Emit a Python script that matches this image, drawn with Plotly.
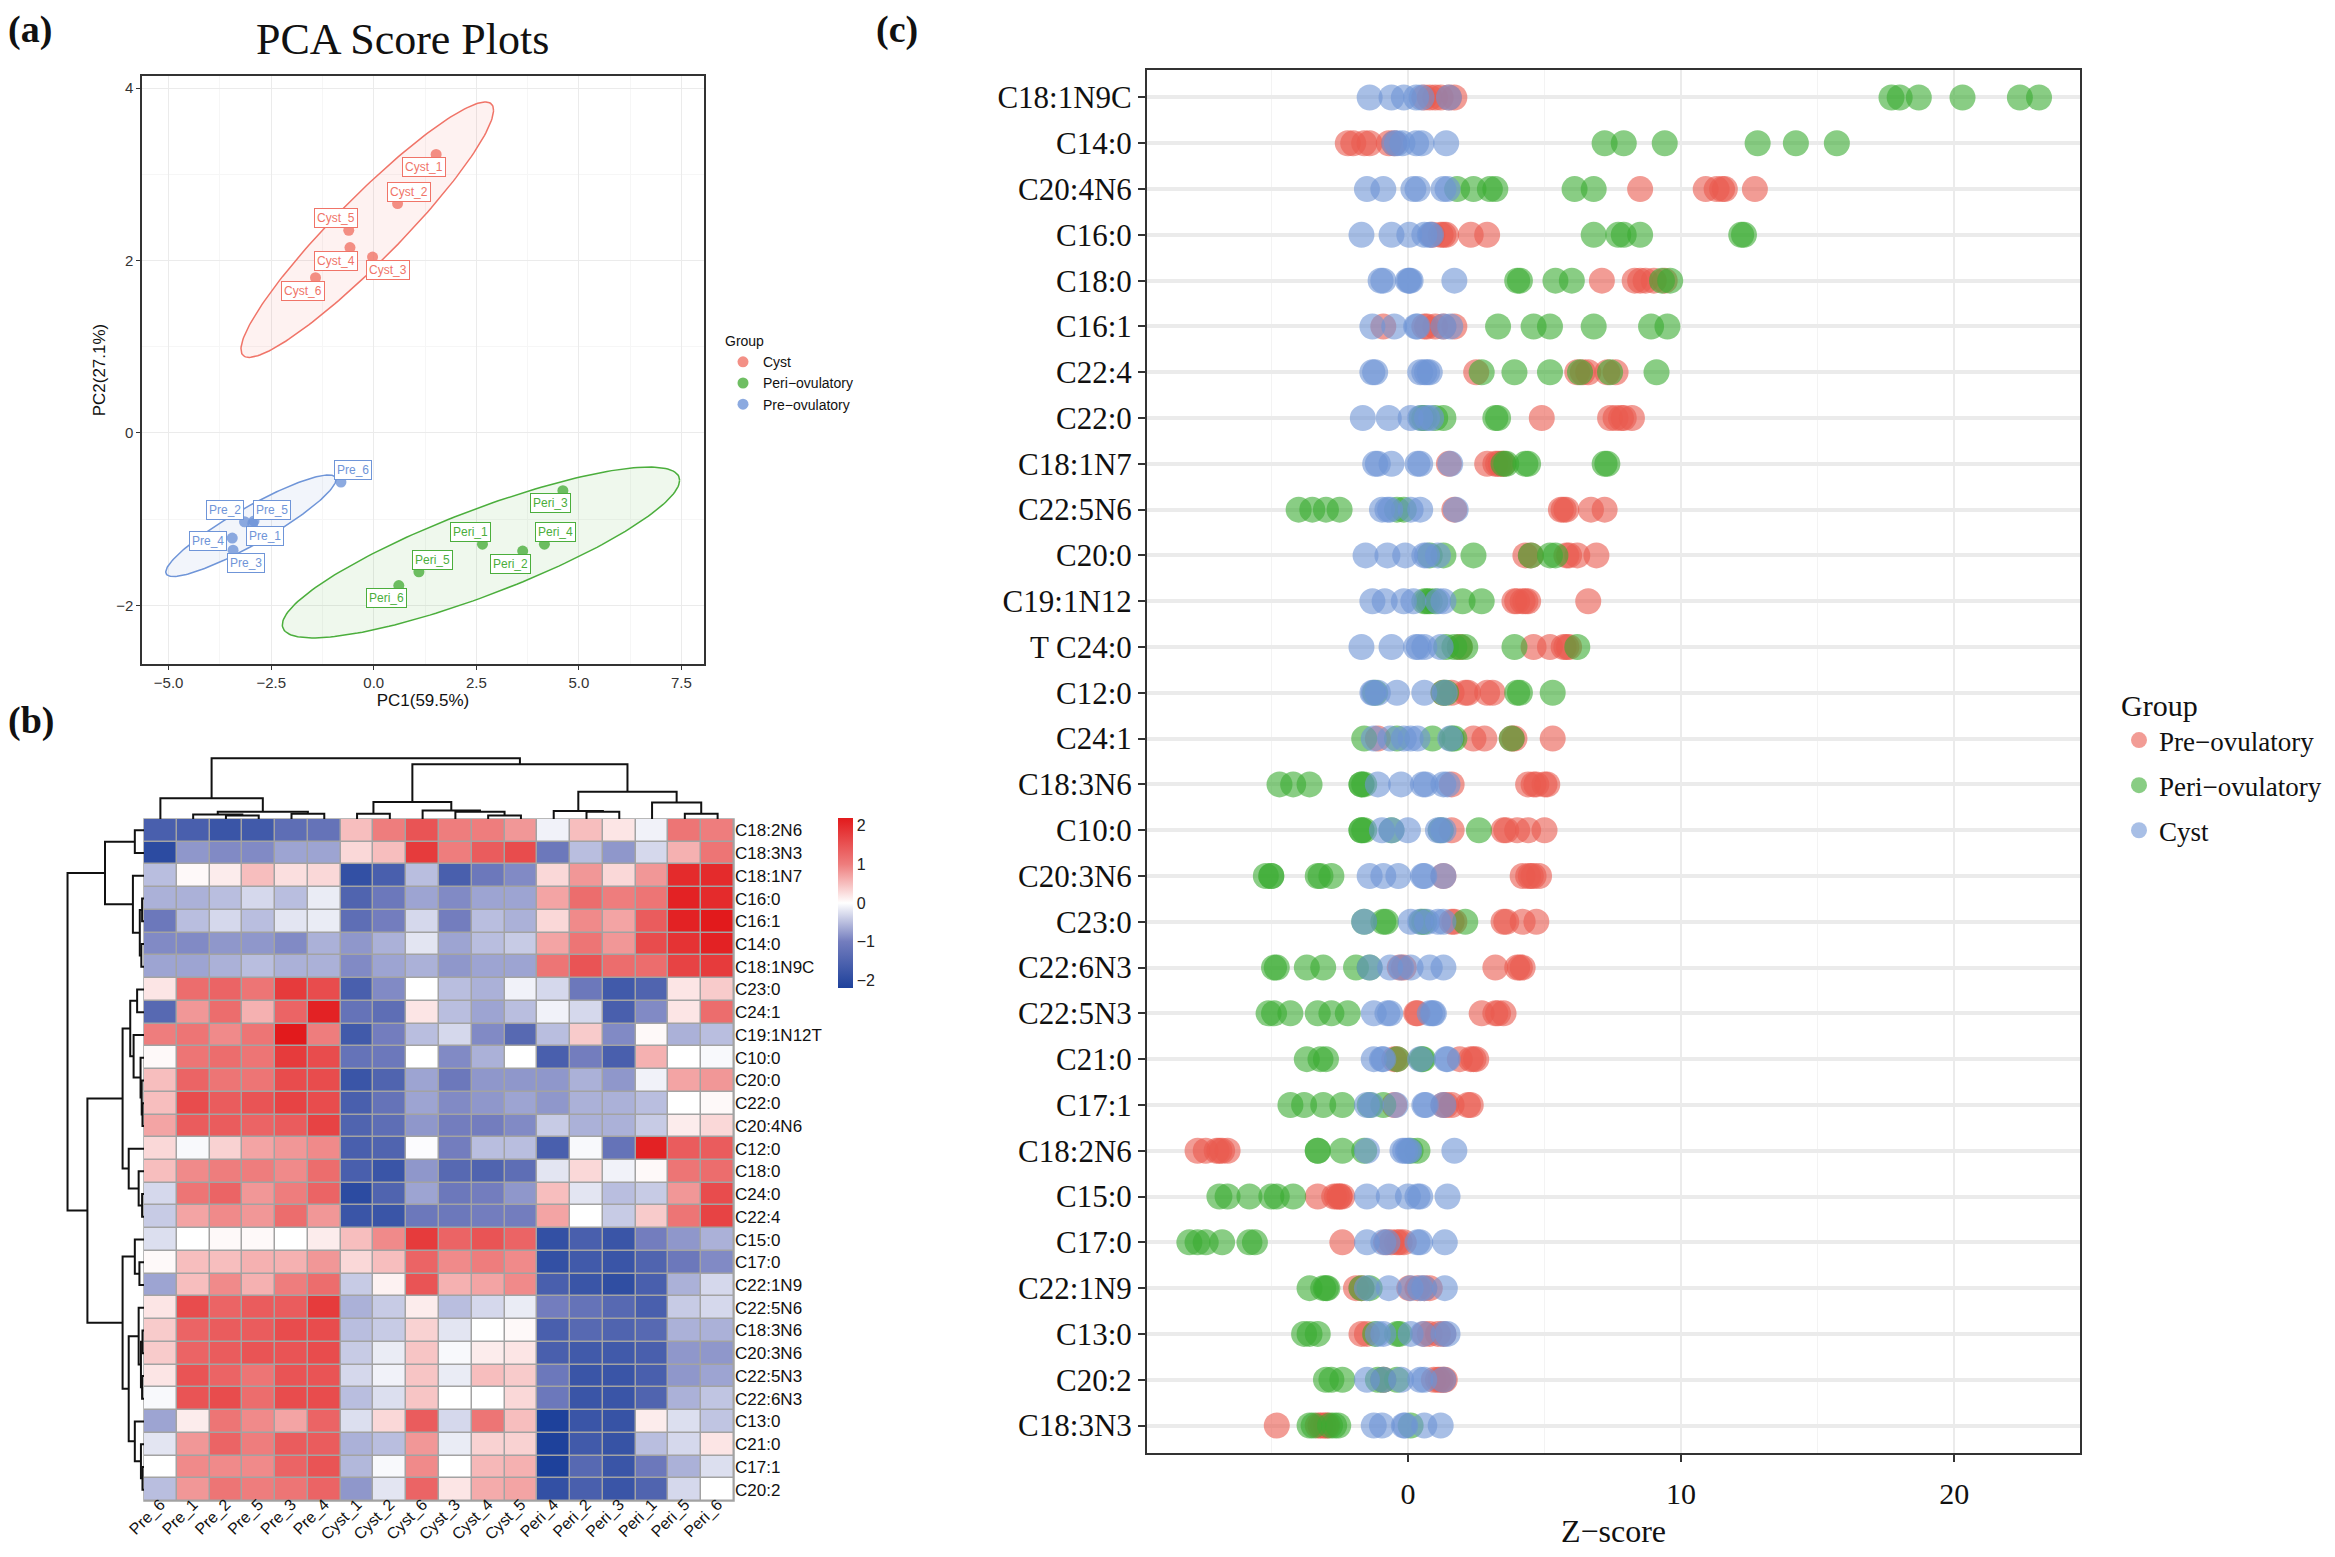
import plotly.graph_objects as go
import numpy as np

# ---------------- datos panel (a): PCA ----------------
cyst_names = ['Cyst_1', 'Cyst_2', 'Cyst_3', 'Cyst_4', 'Cyst_5', 'Cyst_6']
cyst_pc1 = [1.52, 0.58, -0.03, -0.58, -0.61, -1.42]
cyst_pc2 = [3.23, 2.66, 2.04, 2.15, 2.35, 1.80]
peri_names = ['Peri_1', 'Peri_2', 'Peri_3', 'Peri_4', 'Peri_5', 'Peri_6']
peri_pc1 = [2.65, 3.63, 4.61, 4.16, 1.10, 0.61]
peri_pc2 = [-1.29, -1.37, -0.67, -1.29, -1.61, -1.77]
pre_names = ['Pre_1', 'Pre_2', 'Pre_3', 'Pre_4', 'Pre_5', 'Pre_6']
pre_pc1 = [-2.95, -3.15, -3.43, -3.45, -2.92, -0.80]
pre_pc2 = [-1.05, -1.03, -1.36, -1.22, -1.02, -0.57]

# posicion de las etiquetas (desplazamiento respecto al punto)
cyst_lab_dx = [-0.30, 0.29, 0.38, -0.35, -0.30, -0.31]
cyst_lab_dy = [-0.15, 0.14, -0.15, -0.15, 0.14, -0.15]
peri_lab_dx = [-0.30, -0.29, -0.30, 0.27, 0.32, -0.31]
peri_lab_dy = [0.14, -0.15, -0.14, 0.14, 0.14, -0.15]
pre_lab_dx = [0.30, -0.47, 0.31, -0.60, 0.45, 0.29]
pre_lab_dy = [-0.14, 0.14, -0.15, -0.03, 0.13, 0.14]

# ---------------- datos panel (b): heatmap ----------------
heat_cols = ['Pre_6', 'Pre_1', 'Pre_2', 'Pre_5', 'Pre_3', 'Pre_4',
             'Cyst_1', 'Cyst_2', 'Cyst_6', 'Cyst_3', 'Cyst_4', 'Cyst_5',
             'Peri_4', 'Peri_2', 'Peri_3', 'Peri_1', 'Peri_5', 'Peri_6']
heat_rows = ['C18:2N6', 'C18:3N3', 'C18:1N7', 'C16:0', 'C16:1', 'C14:0', 'C18:1N9C',
             'C23:0', 'C24:1', 'C19:1N12T', 'C10:0', 'C20:0', 'C22:0', 'C20:4N6',
             'C12:0', 'C18:0', 'C24:0', 'C22:4', 'C15:0', 'C17:0', 'C22:1N9',
             'C22:5N6', 'C18:3N6', 'C20:3N6', 'C22:5N3', 'C22:6N3', 'C13:0',
             'C21:0', 'C17:1', 'C20:2']
heat_z = [
    [-1.6, -1.6, -1.8, -1.7, -1.3, -1.2, 0.5, 1.0, 1.5, 1.0, 1.0, 0.8, -0.1, 0.5, 0.2, -0.1, 1.1, 1.0],
    [-2.0, -0.8, -0.9, -0.9, -0.7, -0.7, 0.3, 0.5, 1.8, 1.0, 1.4, 1.6, -1.1, -0.5, -0.8, -0.3, 0.6, 1.1],
    [-0.5, 0.05, 0.15, 0.5, 0.25, 0.3, -1.9, -1.6, -0.5, -1.6, -1.1, -0.9, 0.3, 0.8, 0.3, 0.8, 2.0, 2.0],
    [-0.6, -0.6, -0.5, -0.3, -0.5, -0.15, -1.5, -1.1, -0.7, -0.9, -0.7, -0.7, 0.7, 1.2, 1.0, 1.1, 2.1, 2.0],
    [-1.1, -0.5, -0.3, -0.5, -0.2, -0.15, -1.3, -1.0, -0.3, -1.0, -0.5, -0.6, 0.3, 0.9, 0.7, 1.4, 2.1, 2.2],
    [-0.9, -0.9, -0.8, -0.8, -0.9, -0.6, -0.8, -0.6, -0.2, -0.7, -0.5, -0.4, 0.7, 1.1, 0.8, 1.6, 1.9, 2.1],
    [-0.7, -0.7, -0.6, -0.5, -0.6, -0.6, -0.9, -0.7, -0.6, -0.8, -0.7, -0.7, 1.1, 1.5, 1.2, 1.2, 1.7, 1.8],
    [0.2, 1.2, 1.3, 1.1, 1.8, 1.6, -1.6, -0.9, 0.0, -0.5, -0.6, -0.1, -0.3, -1.1, -1.7, -1.5, 0.2, 0.4],
    [-1.4, 0.8, 1.2, 0.6, 1.3, 2.1, -1.2, -1.3, 0.2, -0.5, -0.7, -0.5, -0.1, -0.3, -1.6, -0.9, 0.2, 1.2],
    [1.0, 1.1, 0.9, 1.1, 2.2, 1.0, -1.7, -1.0, -0.5, -0.3, -0.9, -1.4, -0.5, 0.4, -0.9, 0.05, -0.6, -0.5],
    [0.05, 1.1, 1.2, 1.1, 1.8, 1.6, -1.2, -1.1, 0.0, -0.9, -0.6, 0.0, -1.6, -1.0, -1.6, 0.6, 0.0, -0.05],
    [0.5, 1.3, 1.1, 1.1, 1.6, 1.6, -1.8, -1.5, -0.7, -1.1, -0.8, -0.8, -0.8, -0.6, -0.8, -0.1, 0.7, 0.8],
    [0.5, 1.6, 1.4, 1.5, 1.7, 1.6, -1.6, -1.2, -0.7, -0.9, -0.8, -0.7, -0.8, -0.6, -0.6, -0.5, 0.0, 0.05],
    [0.7, 1.4, 1.4, 1.3, 1.4, 1.7, -1.5, -1.3, -0.8, -1.0, -1.0, -0.9, -0.4, -0.6, -0.6, -0.4, 0.15, 0.3],
    [0.3, -0.05, 0.35, 0.7, 0.8, 0.9, -1.6, -1.5, -0.02, -1.0, -0.5, -0.5, -1.6, -0.05, -1.2, 2.1, 1.4, 1.4],
    [0.5, 0.9, 1.0, 1.0, 0.9, 1.2, -1.6, -1.8, -0.8, -1.4, -1.5, -1.3, -0.2, 0.3, -0.1, 0.05, 1.1, 1.2],
    [-0.3, 1.1, 1.3, 0.8, 1.0, 1.3, -2.0, -1.5, -0.7, -1.1, -1.0, -0.8, 0.5, -0.2, -0.5, -0.4, 0.8, 1.6],
    [-0.4, 0.7, 0.9, 0.8, 1.2, 0.8, -1.8, -1.8, -1.1, -1.1, -1.0, -1.0, 0.7, 0.0, -0.4, 0.4, 1.1, 1.7],
    [-0.25, 0.0, 0.05, 0.05, 0.0, 0.15, 0.5, 0.9, 1.8, 1.3, 1.5, 1.3, -1.9, -1.6, -1.8, -1.0, -0.8, -0.6],
    [0.05, 0.5, 0.5, 0.6, 0.6, 0.8, 0.3, 0.5, 1.3, 0.9, 1.0, 0.9, -1.9, -1.7, -1.8, -1.5, -1.1, -0.9],
    [-0.7, 0.5, 0.9, 0.6, 1.0, 1.2, -0.4, 0.1, 1.5, 0.6, 0.7, 0.9, -1.6, -1.8, -1.95, -1.6, -0.6, -0.3],
    [0.2, 1.6, 1.3, 1.4, 1.4, 1.8, -0.6, -0.4, 0.15, -0.5, -0.3, -0.15, -1.0, -1.2, -1.4, -1.6, -0.4, -0.3],
    [0.4, 1.3, 1.4, 1.4, 1.6, 1.6, -0.5, -0.4, 0.35, -0.2, 0.0, 0.05, -1.6, -1.4, -1.5, -1.4, -0.6, -0.6],
    [0.4, 1.3, 1.4, 1.5, 1.5, 1.6, -0.4, -0.15, 0.45, -0.05, 0.15, 0.2, -1.6, -1.7, -1.7, -1.6, -0.8, -0.8],
    [0.2, 1.5, 1.3, 1.1, 1.5, 1.5, -0.3, -0.1, 0.45, -0.15, 0.5, 0.4, -1.1, -1.8, -1.8, -1.6, -0.8, -0.7],
    [-0.05, 1.5, 1.6, 1.2, 1.6, 1.6, -0.5, -0.25, 0.45, 0.0, 0.0, 0.3, -1.1, -1.8, -1.8, -1.5, -0.6, -0.45],
    [-0.7, 0.15, 1.1, 0.9, 0.7, 1.3, -0.25, 0.3, 1.4, -0.3, 1.1, 0.5, -2.2, -1.8, -1.85, 0.15, -0.25, -0.45],
    [-0.2, 0.8, 1.3, 1.0, 1.4, 1.4, -0.6, -0.5, 0.8, -0.15, 0.35, 0.35, -2.2, -1.7, -1.85, -0.5, -0.3, 0.2],
    [0.0, 0.9, 0.9, 0.9, 1.3, 1.5, -0.55, -0.05, 0.9, 0.0, 0.55, 0.6, -2.2, -1.4, -1.8, -1.1, -0.6, -0.25],
    [-0.5, 0.8, 1.1, 1.0, 1.1, 1.3, -0.8, -0.2, 1.3, 0.2, 0.65, 0.7, -1.9, -1.6, -1.8, -1.5, -0.3, 0.0],
]

# arboles de los dendrogramas: (altura, izquierda, derecha), hojas = indice
col_tree = (1.0,
            (0.34, 0, (0.12, (0.074, 1, (0.057, 2, 3)), (0.085, 4, 5))),
            (0.90,
             (0.28, (0.085, 6, 7), (0.14, 8, (0.12, 9, (0.057, 10, 11)))),
             (0.45, (0.13, 12, (0.12, 13, 14)), (0.27, 15, (0.085, 16, 17)))))
row_tree = (1.0,
            (0.51, (0.12, 0, 1), (0.145, 2, (0.055, (0.025, 3, 4), (0.035, 5, 6)))),
            (0.74,
             (0.28,
              (0.18, (0.09, 7, 8), (0.136, 9, (0.045, 10, (0.03, 11, (0.02, 12, 13))))),
              (0.2, 14, (0.07, 15, (0.025, 16, 17)))),
             (0.28,
              (0.12, 18, (0.06, 19, 20)),
              (0.2,
               (0.07, 21, (0.04, (0.02, 22, 23), (0.025, 24, 25))),
               (0.12, 26, (0.04, 27, (0.02, 28, 29)))))))

# ---------------- datos panel (c): Z-score ----------------
fatty_acids = ['C18:1N9C', 'C14:0', 'C20:4N6', 'C16:0', 'C18:0', 'C16:1', 'C22:4', 'C22:0',
               'C18:1N7', 'C22:5N6', 'C20:0', 'C19:1N12', 'T C24:0', 'C12:0', 'C24:1',
               'C18:3N6', 'C10:0', 'C20:3N6', 'C23:0', 'C22:6N3', 'C22:5N3', 'C21:0',
               'C17:1', 'C18:2N6', 'C15:0', 'C17:0', 'C22:1N9', 'C13:0', 'C20:2', 'C18:3N3']
pre_z = [
    [0.6, 0.8, 1.0, 1.2, 1.5, 1.7], [-2.2, -2.0, -1.6, -1.4, -0.7, -0.5],
    [8.5, 10.9, 11.3, 11.5, 11.6, 12.7], [0.9, 1.2, 1.3, 1.4, 2.3, 2.9],
    [7.1, 8.3, 8.5, 8.7, 9.0, 9.4], [-0.9, 0.6, 0.7, 1.0, 1.3, 1.7],
    [2.5, 6.2, 6.4, 6.6, 7.3, 7.6], [4.9, 7.4, 7.6, 7.8, 7.9, 8.2],
    [1.5, 2.9, 3.2, 3.3, 3.4, 3.5], [1.7, 5.6, 5.7, 5.8, 6.7, 7.2],
    [4.3, 4.5, 5.8, 5.9, 6.2, 6.9], [3.9, 4.0, 4.2, 4.3, 4.4, 6.6],
    [1.9, 4.6, 5.2, 5.7, 5.8, 5.9], [1.3, 1.6, 2.1, 2.2, 2.9, 3.1],
    [-1.1, 2.4, 2.8, 3.8, 3.9, 5.3], [1.6, 4.4, 4.6, 4.7, 5.0, 5.1],
    [1.6, 3.5, 3.6, 4.0, 4.4, 5.0], [1.3, 4.2, 4.4, 4.5, 4.6, 4.8],
    [1.6, 1.7, 3.5, 3.6, 4.2, 4.7], [-0.3, -0.15, 3.2, 4.0, 4.1, 4.2],
    [0.3, 0.35, 2.7, 3.2, 3.3, 3.5], [-0.5, -0.4, 1.9, 2.3, 2.4, 2.5],
    [-0.5, 1.3, 1.4, 1.6, 2.2, 2.3], [-7.7, -7.4, -7.0, -6.9, -6.8, -6.6],
    [-3.3, -2.7, -2.6, -2.5, -2.5, -2.4], [-2.4, -0.8, -0.6, -0.4, -0.3, -0.15],
    [-1.9, -1.7, 0.05, 0.35, 0.6, 0.8], [-1.7, -1.5, 0.6, 0.8, 1.1, 1.3],
    [-0.9, 0.95, 1.1, 1.2, 1.3, 1.35], [-4.8, -3.3, -3.2, -3.1, -3.0, -2.95],
]
peri_z = [
    [17.7, 18.0, 18.7, 20.3, 22.4, 23.1], [7.2, 7.9, 9.4, 12.8, 14.2, 15.7],
    [1.8, 2.4, 3.0, 3.2, 6.1, 6.8], [6.8, 7.7, 7.9, 8.5, 12.2, 12.3],
    [4.0, 4.1, 5.4, 6.0, 9.3, 9.6], [3.3, 4.6, 5.2, 6.8, 8.9, 9.5],
    [2.7, 3.9, 5.2, 6.3, 7.4, 9.1], [0.5, 0.6, 1.0, 1.3, 3.2, 3.3],
    [3.5, 3.6, 4.3, 4.4, 7.2, 7.3], [-4.0, -3.5, -3.0, -2.5, -0.4, -0.15],
    [0.8, 1.3, 2.4, 4.5, 5.2, 5.4], [0.6, 0.7, 0.8, 1.0, 2.0, 2.7],
    [1.4, 1.7, 1.9, 2.1, 3.9, 6.2], [-1.2, 1.3, 1.4, 4.0, 4.1, 5.3],
    [-1.6, -0.4, 0.9, 1.6, 1.7, 3.8], [-4.7, -4.2, -3.6, -1.7, -1.7, -1.6],
    [-1.7, -1.7, -1.6, -0.6, 1.2, 2.6], [-5.2, -5.0, -5.0, -3.3, -3.2, -2.8],
    [-1.6, -0.9, -0.8, 0.5, 0.6, 2.1], [-4.9, -4.8, -3.7, -3.1, -1.9, -1.4],
    [-5.1, -4.9, -4.3, -3.3, -2.8, -2.2], [-3.7, -3.2, -3.0, -0.4, 0.5, 0.55],
    [-4.3, -3.8, -3.1, -2.4, -1.4, -0.9], [-3.3, -3.3, -2.4, -1.6, 0.1, 0.35],
    [-6.9, -6.6, -5.8, -5.0, -4.8, -4.2], [-8.0, -7.7, -7.4, -6.8, -5.8, -5.6],
    [-3.6, -3.1, -3.0, -2.95, -1.7, -1.4], [-3.8, -3.6, -3.3, -1.2, -0.4, -0.3],
    [-3.0, -2.8, -2.4, -1.1, -0.9, -0.4], [-3.6, -3.45, -2.85, -2.7, -2.55, 0.1],
]
cyst_z = [
    [-1.4, -0.6, -0.15, 0.3, 0.5, 1.5], [-0.5, -0.4, -0.2, 0.3, 0.5, 1.4],
    [-1.5, -0.9, 0.2, 0.35, 1.3, 1.45], [-1.7, -0.6, 0.05, 0.6, 0.8, 0.85],
    [-1.0, -0.9, 0.0, 0.05, 0.1, 1.7], [-1.3, -0.5, 0.3, 0.35, 1.3, 1.55],
    [-1.3, -1.2, 0.45, 0.6, 0.7, 0.8], [-1.65, -0.7, 0.1, 0.45, 0.7, 0.85],
    [-1.2, -1.1, -0.6, 0.35, 0.45, 1.55], [-0.95, -0.75, -0.65, 0.1, 0.45, 1.75],
    [-1.55, -0.75, -0.1, 0.6, 0.7, 1.1], [-1.3, -0.85, -0.15, 0.2, 1.1, 1.3],
    [-1.7, -0.6, 0.3, 0.4, 0.6, 1.2], [-1.3, -1.25, -1.1, -0.4, 0.6, 1.35],
    [-1.25, -0.65, -0.15, 0.1, 0.35, 1.55], [-1.1, -0.25, 0.55, 0.65, 1.3, 1.45],
    [-0.95, -0.6, 0.0, 1.1, 1.2, 1.3], [-1.4, -0.9, -0.35, 0.55, 0.6, 1.3],
    [-1.6, 0.1, 0.45, 0.7, 1.1, 1.3], [-1.4, -0.65, -0.25, 0.1, 0.8, 1.3],
    [-1.25, -0.75, -0.65, 0.8, 0.9, 0.95], [-1.25, -0.95, -0.9, 0.45, 1.4, 1.45],
    [-1.5, -1.35, -0.45, 0.6, 0.65, 1.3], [-1.5, -0.2, -0.1, 0.0, 0.05, 1.7],
    [-1.5, -0.7, 0.0, 0.35, 0.45, 1.45], [-1.5, -0.9, -0.75, 0.35, 0.45, 1.35],
    [-1.5, -0.7, 0.1, 0.45, 0.6, 1.35], [-1.1, -0.9, 0.1, 0.55, 1.3, 1.45],
    [-1.5, -0.9, -0.25, 0.45, 0.6, 1.3], [-1.25, -0.95, -0.15, -0.1, 0.6, 1.2],
]

# ---------------- geometria de la pagina ----------------
# la pagina tiene un margen de 8 px en el body: la figura empieza en (8, 8)
W, H = 2335, 1557
OFF = 8
FW, FH = W - 2 * OFF, H - 2 * OFF


def fx(px):
    return (px - OFF) / FW


def fy(py):
    return 1 - (py - OFF) / FH


SANS = 'Liberation Sans'
SERIF = 'Liberation Serif'
DARK = '#333333'

fig = go.Figure()

# ---------------- panel (a) ----------------
F95 = 5.786  # qf(0.95, 2, 5)


def cov_trob(pts, nu=5, maxit=25, tol=0.01):
    n, p = pts.shape
    w = np.ones(n)
    loc = pts.mean(axis=0)
    for _ in range(maxit):
        w0 = w
        d = pts - loc
        S = (w[:, None] * d).T @ d / w.sum()
        Q = np.einsum('ij,jk,ik->i', d, np.linalg.inv(S), d)
        w = (nu + p) / (nu + Q)
        loc = (w[:, None] * pts).sum(axis=0) / w.sum()
        if np.all(np.abs(w - w0) < tol):
            break
    return loc, (w[:, None] * d).T @ d / n


def ellipse(xs, ys):
    pts = np.column_stack([xs, ys])
    center, shape = cov_trob(pts)
    radius = np.sqrt(2 * F95)
    t = np.linspace(0, 2 * np.pi, 200)
    circ = np.column_stack([np.cos(t), np.sin(t)])
    R = np.linalg.cholesky(shape).T
    e = center + radius * circ @ R
    return e[:, 0], e[:, 1]


pca_groups = [
    ('Cyst', cyst_names, cyst_pc1, cyst_pc2, cyst_lab_dx, cyst_lab_dy, '#F07468', 'rgba(240,116,104,0.09)'),
    ('Peri−ovulatory', peri_names, peri_pc1, peri_pc2, peri_lab_dx, peri_lab_dy, '#4BAE3C', 'rgba(75,174,60,0.09)'),
    ('Pre−ovulatory', pre_names, pre_pc1, pre_pc2, pre_lab_dx, pre_lab_dy, '#6F95D8', 'rgba(111,149,216,0.09)'),
]

annotations = []
for label, names, pc1, pc2, dx, dy, col, fill in pca_groups:
    ex, ey = ellipse(pc1, pc2)
    fig.add_trace(go.Scatter(x=ex, y=ey, mode='lines', fill='toself', fillcolor=fill,
                             line=dict(color=col, width=1.5), showlegend=False,
                             hoverinfo='skip', xaxis='x', yaxis='y'))
for label, names, pc1, pc2, dx, dy, col, fill in pca_groups:
    fig.add_trace(go.Scatter(x=pc1, y=pc2, mode='markers', name=label, legend='legend2',
                             marker=dict(color=col, size=11, opacity=0.8),
                             xaxis='x', yaxis='y'))
    for n, a, b, ox, oy in zip(names, pc1, pc2, dx, dy):
        annotations.append(dict(x=a + ox, y=b + oy, xref='x', yref='y', text=n,
                                showarrow=False, bgcolor='white', bordercolor=col,
                                borderwidth=1, borderpad=2,
                                font=dict(family=SANS, size=12, color=col)))

# ---------------- panel (b) ----------------
zmin, zmax = -2.2, 2.2


def pos(v):
    return (v - zmin) / (zmax - zmin)


heat_scale = [[0, 'rgb(30,65,155)'], [pos(-1), 'rgb(115,125,190)'], [pos(0), 'rgb(255,255,255)'],
              [pos(1), 'rgb(238,125,125)'], [1, 'rgb(226,26,28)']]

fig.add_trace(go.Heatmap(
    z=heat_z, x=list(range(len(heat_cols))), y=list(range(len(heat_rows))),
    colorscale=heat_scale, zmin=zmin, zmax=zmax, xgap=1.5, ygap=1.5,
    xaxis='x2', yaxis='y2',
    colorbar=dict(x=fx(838), xanchor='left', xpad=0, y=fy(818), yanchor='top', ypad=0,
                  len=170 / FH, lenmode='fraction', thickness=15, outlinewidth=0,
                  tickvals=[-2, -1, 0, 1, 2], ticks='',
                  tickfont=dict(family=SANS, size=16, color='#222'))))


def dendro(node):
    if isinstance(node, int):
        return node, 0.0, [], []
    h, left, right = node
    pl, hl, xl, yl = dendro(left)
    pr, hr, xr, yr = dendro(right)
    xs = xl + xr + [pl, pl, pr, pr, None]
    ys = yl + yr + [hl, h, h, hr, None]
    return (pl + pr) / 2, h, xs, ys


_, _, cpos, cht = dendro(col_tree)
fig.add_trace(go.Scatter(x=cpos, y=cht, mode='lines', line=dict(color='#111', width=2),
                         showlegend=False, hoverinfo='skip', xaxis='x3', yaxis='y3'))
_, _, rpos, rht = dendro(row_tree)
fig.add_trace(go.Scatter(x=rht, y=rpos, mode='lines', line=dict(color='#111', width=2),
                         showlegend=False, hoverinfo='skip', xaxis='x4', yaxis='y4'))

# ---------------- panel (c) ----------------
dot_groups = [('Pre−ovulatory', pre_z, '#EA5A4F'),
              ('Peri−ovulatory', peri_z, '#3AAB32'),
              ('Cyst', cyst_z, '#6E95D6')]
for label, vals, col in dot_groups:
    xs, ys = [], []
    for fa, row in zip(fatty_acids, vals):
        xs += row
        ys += [fa] * len(row)
    fig.add_trace(go.Scatter(x=xs, y=ys, mode='markers', name=label, legend='legend',
                             legendgroup=label,
                             marker=dict(color=col, size=26, opacity=0.6),
                             xaxis='x5', yaxis='y5'))

# ---------------- diseño ----------------
annotations += [
    dict(text='<b>(a)</b>', x=fx(6), y=fy(6), xref='paper', yref='paper', xanchor='left',
         yanchor='top', showarrow=False, font=dict(family=SERIF, size=38, color='#111')),
    dict(text='PCA Score Plots', x=fx(402), y=fy(40), xref='paper', yref='paper',
         xanchor='center', yanchor='middle',
         showarrow=False, font=dict(family=SERIF, size=44, color='#111')),
    dict(text='<b>(b)</b>', x=fx(6), y=fy(697), xref='paper', yref='paper', xanchor='left',
         yanchor='top', showarrow=False, font=dict(family=SERIF, size=38, color='#111')),
    dict(text='<b>(c)</b>', x=fx(874), y=fy(6), xref='paper', yref='paper', xanchor='left',
         yanchor='top', showarrow=False, font=dict(family=SERIF, size=38, color='#111')),
]

box = dict(showline=True, linecolor=DARK, linewidth=1.5, mirror=True, zeroline=False)
hidden = dict(visible=False, showgrid=False, zeroline=False)

fig.update_layout(
    width=FW, height=FH, margin=dict(l=0, r=0, t=0, b=0, autoexpand=False),
    plot_bgcolor='white', paper_bgcolor='white',
    annotations=annotations,
    shapes=[dict(type='rect', xref='x2 domain', yref='y2 domain', x0=0, x1=1, y0=0, y1=1,
                 fillcolor='#A3A3A3', line=dict(color='#A3A3A3', width=1.5), layer='below')],
    # PCA
    xaxis=dict(domain=[fx(142), fx(704)], anchor='y', range=[-5.65, 8.05],
               tickvals=[-5, -2.5, 0, 2.5, 5, 7.5], tickformat='.1f',
               ticks='outside', ticklen=4, tickcolor=DARK, gridcolor='#EBEBEB',
               minor=dict(tickvals=[-3.75, -1.25, 1.25, 3.75, 6.25], showgrid=True,
                          gridcolor='#F6F6F6', ticks=''),
               tickfont=dict(family=SANS, size=15, color='#333'),
               title=dict(text='PC1(59.5%)', font=dict(family=SANS, size=17, color='#111'),
                          standoff=4), **box),
    yaxis=dict(domain=[fy(664), fy(76)], anchor='x', range=[-2.68, 4.14], dtick=2,
               ticks='outside', ticklen=4, tickcolor=DARK, gridcolor='#EBEBEB',
               minor=dict(tickvals=[-1, 1, 3], showgrid=True, gridcolor='#F6F6F6', ticks=''),
               tickfont=dict(family=SANS, size=15, color='#333'),
               title=dict(text='PC2(27.1%)', font=dict(family=SANS, size=17, color='#111'),
                          standoff=6), **box),
    # heatmap
    xaxis2=dict(domain=[fx(144), fx(734)], anchor='y2', range=[-0.5, 17.5],
                tickvals=list(range(len(heat_cols))), ticktext=heat_cols, tickangle=-45,
                showgrid=False, zeroline=False, ticks='', ticklabelstandoff=-10,
                tickfont=dict(family=SANS, size=16, color='#111')),
    yaxis2=dict(domain=[fy(1501), fy(819)], anchor='x2', range=[29.5, -0.5], side='right',
                tickvals=list(range(len(heat_rows))), ticktext=heat_rows,
                showgrid=False, zeroline=False, ticks='',
                tickfont=dict(family=SANS, size=17, color='#111')),
    xaxis3=dict(domain=[fx(144), fx(734)], anchor='y3', range=[-0.5, 17.5], **hidden),
    yaxis3=dict(domain=[fy(819), fy(757)], anchor='x3', range=[0, 1.02], **hidden),
    xaxis4=dict(domain=[fx(66), fx(144)], anchor='y4', range=[1.02, 0], **hidden),
    yaxis4=dict(domain=[fy(1501), fy(819)], anchor='x4', range=[29.5, -0.5], **hidden),
    # Z-score
    xaxis5=dict(domain=[fx(1147), fx(2080)], anchor='y5', range=[-9.55, 24.6],
                tickvals=[0, 10, 20], ticks='outside', ticklen=7, tickwidth=2, tickcolor=DARK,
                ticklabelstandoff=6,
                gridcolor='#EBEBEB', gridwidth=2,
                minor=dict(tickvals=[-5, 5, 15], showgrid=True, gridcolor='#F3F3F3',
                           gridwidth=1, ticks=''),
                tickfont=dict(family=SERIF, size=30, color='#111'),
                title=dict(text='Z−score', font=dict(family=SERIF, size=32, color='#111'),
                           standoff=14),
                showline=True, linecolor=DARK, linewidth=2, mirror=True, zeroline=False),
    yaxis5=dict(domain=[fy(1453), fy(70)], anchor='x5', categoryorder='array',
                categoryarray=fatty_acids[::-1], range=[-0.6, len(fatty_acids) - 0.4],
                ticks='outside', ticklen=7, tickwidth=2, tickcolor=DARK,
                gridcolor='#EBEBEB', gridwidth=4,
                tickfont=dict(family=SERIF, size=31, color='#111'),
                showline=True, linecolor=DARK, linewidth=2, mirror=True, zeroline=False),
    legend=dict(x=fx(2119), y=fy(677), xanchor='left', yanchor='top',
                bgcolor='rgba(0,0,0,0)', tracegroupgap=7, itemsizing='trace',
                title=dict(text='Group', font=dict(family=SERIF, size=30, color='#111')),
                font=dict(family=SERIF, size=27, color='#111')),
    legend2=dict(x=fx(723), y=fy(328), xanchor='left', yanchor='top',
                 bgcolor='rgba(0,0,0,0)', tracegroupgap=0,
                 title=dict(text='Group', font=dict(family=SANS, size=14, color='#111')),
                 font=dict(family=SANS, size=14, color='#111')),
)

fig.write_html('out.html')
